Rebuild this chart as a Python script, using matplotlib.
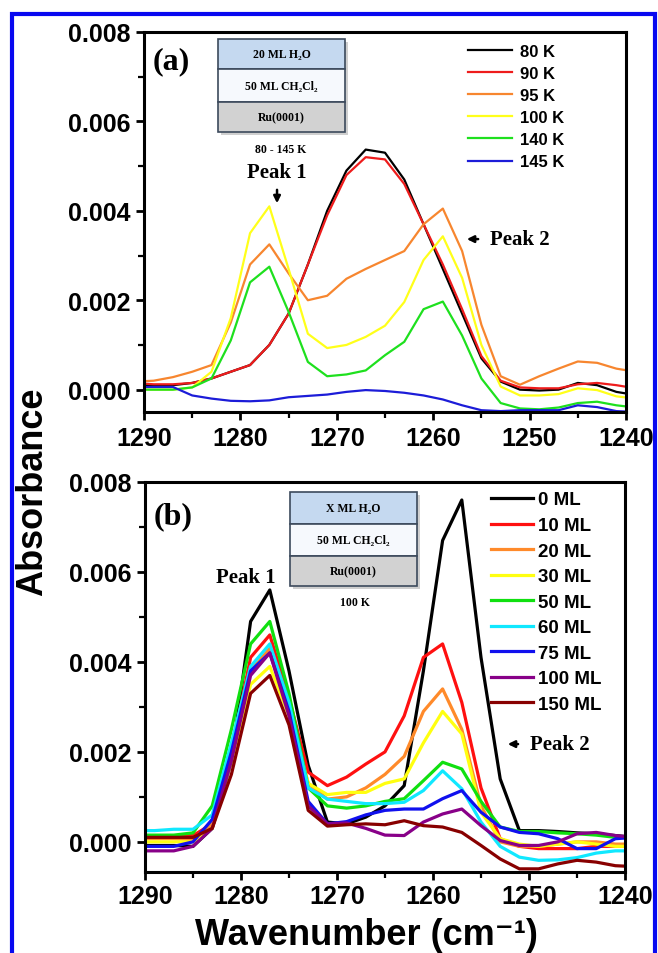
import numpy as np
import matplotlib
matplotlib.use("Agg")
import matplotlib.pyplot as plt
from matplotlib.patches import Rectangle
from matplotlib.ticker import MultipleLocator, FormatStrFormatter

plt.rcParams['font.family'] = ['Liberation Sans', 'DejaVu Sans']
plt.rcParams['font.weight'] = 'bold'

# wavenumber grid (cm-1), shared by both panels
wavenumber = [1291, 1289, 1287, 1285, 1283, 1281, 1279, 1277, 1275, 1273, 1271, 1269, 1267, 1265,
              1263, 1261, 1259, 1257, 1255, 1253, 1251, 1249, 1247, 1245, 1243, 1241, 1239]

# panel (a): temperature series
temp_labels = ['80 K', '90 K', '95 K', '100 K', '140 K', '145 K']
temp_colors = ['#000000', '#ee1c1c', '#f7862f', '#ffff1a', '#1ee01e', '#1c1cd8']
k80 = [0.0001, 0.0001, 0.0001, 0.00015, 0.00025, 0.0004, 0.00055, 0.001, 0.0017, 0.0028, 0.004, 0.0049, 0.00537, 0.0053,
       0.0047, 0.0037, 0.0027, 0.0017, 0.0007, 0.00018, 0.0, -0.00002, 0.0, 0.00015, 0.0001, -0.00005, -0.00012]
k90 = [0.00015, 0.00012, 0.00012, 0.00015, 0.00025, 0.0004, 0.00055, 0.001, 0.0017, 0.0028, 0.0039, 0.0048, 0.0052, 0.00515,
       0.0046, 0.0037, 0.0028, 0.0018, 0.00075, 0.0002, 0.00005, 0.00003, 0.00003, 0.00012, 0.00015, 0.0001, 0.00003]
k95 = [0.00018, 0.0002, 0.00028, 0.0004, 0.00055, 0.0015, 0.0028, 0.00325, 0.0026, 0.002, 0.0021, 0.00248, 0.0027, 0.0029,
       0.0031, 0.0037, 0.00405, 0.0031, 0.00145, 0.0003, 0.00011, 0.0003, 0.00047, 0.00063, 0.0006, 0.00047, 0.0004]
k100 = [0.0, 0.0, 0.0, 0.00005, 0.0004, 0.0016, 0.0035, 0.0041, 0.0027, 0.00125, 0.00093, 0.001, 0.00118, 0.00143,
        0.00196, 0.0029, 0.00343, 0.0025, 0.001, 0.00007, -0.00013, -0.00013, -0.0001, 0.00003, -0.00001, -0.00015, -0.0002]
k140 = [0.0, 0.0, 0.0, 0.00005, 0.00025, 0.0011, 0.0024, 0.00275, 0.00174, 0.00062, 0.0003, 0.00034, 0.00043, 0.00077,
        0.00107, 0.0018, 0.00197, 0.00121, 0.00025, -0.0003, -0.00042, -0.00044, -0.0004, -0.0003, -0.00027, -0.00035, -0.0004]
k145 = [0.00006, 0.00006, 0.00006, -0.00013, -0.0002, -0.00025, -0.00026, -0.00024, -0.00017, -0.00014, -0.00011, -0.00005, -0.00001, -0.00003,
        -0.00007, -0.00013, -0.00022, -0.00035, -0.00046, -0.00048, -0.00046, -0.00046, -0.00046, -0.00035, -0.00039, -0.00048, -0.0005]

# panel (b): water coverage series
ml_labels = ['0 ML', '10 ML', '20 ML', '30 ML', '50 ML', '60 ML', '75 ML', '100 ML', '150 ML']
ml_colors = ['#000000', '#ff1010', '#ff8a2a', '#ffff10', '#10e010', '#10e8ff', '#1010ee', '#880088', '#880000']
ml0 = [-0.00008, -0.00008, -0.00008, -0.0001, 0.0003, 0.0018, 0.0049, 0.0056, 0.0038, 0.0017, 0.00044, 0.0004, 0.00055, 0.0008,
       0.00125, 0.0038, 0.0067, 0.0076, 0.0041, 0.0014, 0.00025, 0.00025, 0.00023, 0.0002, 0.00018, 0.00014, 0.0001]
ml10 = [0.00013, 0.00013, 0.00013, 0.00014, 0.0004, 0.002, 0.0041, 0.0046, 0.0032, 0.00155, 0.00125, 0.00144, 0.00173, 0.002,
        0.0028, 0.0041, 0.0044, 0.0031, 0.0012, 0.00007, -0.0001, -0.00015, -0.00015, -0.00015, -0.0001, -0.0001, -0.0001]
ml20 = [0.00007, 0.00007, 0.00007, 0.00005, 0.0004, 0.0019, 0.0038, 0.0043, 0.003, 0.0013, 0.00095, 0.001, 0.0012, 0.0015,
        0.0019, 0.0029, 0.0034, 0.0025, 0.0008, 0.0, -0.0001, -0.0001, -0.00005, 0.0, 0.0, -0.00005, -0.00005]
ml30 = [0.0, 0.0, 0.0, 0.0, 0.0003, 0.0018, 0.0035, 0.0039, 0.0028, 0.0013, 0.00105, 0.0011, 0.0011, 0.0013,
        0.0014, 0.0022, 0.0029, 0.0024, 0.00066, 0.00007, -0.00005, -0.0001, -0.00005, 0.0, -0.00005, -0.0001, -0.0001]
ml50 = [0.00015, 0.00015, 0.00015, 0.0002, 0.0008, 0.0025, 0.0044, 0.0049, 0.0033, 0.0012, 0.0008, 0.00075, 0.0008, 0.0009,
        0.00096, 0.00136, 0.00177, 0.00162, 0.0009, 0.00033, 0.00023, 0.00023, 0.0002, 0.00018, 0.00015, 0.0001, 0.0001]
ml60 = [0.00025, 0.00025, 0.00028, 0.00028, 0.0006, 0.0022, 0.0039, 0.0044, 0.0031, 0.0012, 0.00095, 0.0009, 0.00085, 0.00085,
        0.00088, 0.00114, 0.00158, 0.00118, 0.00044, -0.0001, -0.00034, -0.00041, -0.0004, -0.00035, -0.00025, -0.0002, -0.0002]
ml75 = [-0.0001, -0.0001, -0.0001, 0.0, 0.0005, 0.002, 0.0038, 0.0042, 0.0029, 0.0009, 0.0004, 0.00045, 0.0006, 0.0007,
        0.00073, 0.00073, 0.00096, 0.00114, 0.00066, 0.00033, 0.00021, 0.00018, 0.00007, -0.00015, -0.00015, 0.00007, 0.0001]
ml100 = [-0.0002, -0.0002, -0.0002, -0.0001, 0.0003, 0.0018, 0.0037, 0.0042, 0.0028, 0.0008, 0.0004, 0.00042, 0.0003, 0.00015,
         0.00014, 0.00044, 0.00062, 0.00073, 0.00036, 0.00003, -0.00008, -0.00008, 0.0, 0.00018, 0.00021, 0.00014, 0.0001]
ml150 = [0.0001, 0.0001, 0.0001, 0.0001, 0.0003, 0.0015, 0.0033, 0.0037, 0.0026, 0.0007, 0.00035, 0.00038, 0.0004, 0.00038,
         0.00047, 0.00036, 0.00033, 0.00021, -0.00008, -0.00038, -0.0006, -0.0006, -0.00049, -0.00041, -0.00045, -0.00053, -0.00055]

temp_series = [k80, k90, k95, k100, k140, k145]
ml_series = [ml0, ml10, ml20, ml30, ml50, ml60, ml75, ml100, ml150]

W, H = 658, 954
SERIF = ['Liberation Serif', 'DejaVu Serif']


def px_axes(left, top, right, bottom):
    return [left / W, 1 - bottom / H, (right - left) / W, (bottom - top) / H]


def style_axes(ax, ymin):
    ax.set_xlim(1290, 1240)
    ax.set_ylim(ymin, 0.008)
    ax.xaxis.set_major_locator(MultipleLocator(10))
    ax.xaxis.set_minor_locator(MultipleLocator(5))
    ax.yaxis.set_major_locator(MultipleLocator(0.002))
    ax.yaxis.set_minor_locator(MultipleLocator(0.001))
    ax.yaxis.set_major_formatter(FormatStrFormatter('%.3f'))
    ax.tick_params(which='major', direction='out', length=6, width=2, labelsize=18, pad=4)
    ax.tick_params(which='minor', direction='out', length=4, width=1.6)
    ax.tick_params(top=False, right=False)
    for sp in ax.spines.values():
        sp.set_linewidth(2.2)


def layer_box(ax, x0, x1, rows, labels):
    fills = ['#c5d9f0', '#f6f9fd', '#d2d2d2']
    # drop shadow
    ax.add_patch(Rectangle((x0 + 0.006, rows[-1] - 0.008), x1 - x0, rows[0] - rows[-1],
                           transform=ax.transAxes, fc='#b0b0b0', ec='none', alpha=0.6, zorder=5))
    for i in range(3):
        ax.add_patch(Rectangle((x0, rows[i + 1]), x1 - x0, rows[i] - rows[i + 1], transform=ax.transAxes,
                               fc=fills[i], ec='#3c4a5c', lw=1.2, zorder=6))
        ax.text((x0 + x1) / 2, (rows[i] + rows[i + 1]) / 2, labels[i], transform=ax.transAxes,
                ha='center', va='center', fontsize=8.5, family=SERIF, zorder=7)


fig = plt.figure(figsize=(W / 100, H / 100), dpi=100)

# ---- panel (a)
ax1 = fig.add_axes(px_axes(144, 33, 626, 413))
for ys, c, lab in zip(temp_series, temp_colors, temp_labels):
    ax1.plot(wavenumber, ys, color=c, lw=1.6, label=lab)
style_axes(ax1, -0.0005)
ax1.legend(loc='upper left', bbox_to_anchor=(0.649, 1.0), frameon=False, fontsize=12,
           handlelength=2.6, handletextpad=0.5, labelspacing=0.43, borderaxespad=0.3)
layer_box(ax1, 0.1535, 0.417, [0.9816, 0.9026, 0.8158, 0.7368],
          ['20 ML H\u2082O', '50 ML CH\u2082Cl\u2082', 'Ru(0001)'])
ax1.text(0.284, 0.692, '80 - 145 K', transform=ax1.transAxes, ha='center', va='center', fontsize=8.5, family=SERIF)
ax1.text(0.017, 0.924, '(a)', transform=ax1.transAxes, ha='left', va='center', fontsize=23, family=SERIF)
ax1.text(0.276, 0.632, 'Peak 1', transform=ax1.transAxes, ha='center', va='center', fontsize=15, family=SERIF)
ax1.annotate('', xy=(0.276, 0.542), xytext=(0.276, 0.592), xycoords='axes fraction',
             arrowprops=dict(arrowstyle='-|>', color='black', lw=1.8, mutation_scale=10))
ax1.text(0.718, 0.455, 'Peak 2', transform=ax1.transAxes, ha='left', va='center', fontsize=15, family=SERIF)
ax1.annotate('', xy=(0.664, 0.455), xytext=(0.699, 0.455), xycoords='axes fraction',
             arrowprops=dict(arrowstyle='-|>', color='black', lw=1.8, mutation_scale=10))

# ---- panel (b)
ax2 = fig.add_axes(px_axes(145, 483, 625, 873))
for ys, c, lab in zip(ml_series, ml_colors, ml_labels):
    ax2.plot(wavenumber, ys, color=c, lw=2.3, label=lab)
style_axes(ax2, -0.00067)
ax2.tick_params(axis='x', pad=3)
ax2.legend(loc='upper left', bbox_to_anchor=(0.701, 1.0), frameon=False, fontsize=13.5,
           handlelength=2.25, handletextpad=0.27, labelspacing=0.45, borderaxespad=0.1)
layer_box(ax2, 0.302, 0.567, [0.974, 0.892, 0.810, 0.733],
          ['X ML H\u2082O', '50 ML CH\u2082Cl\u2082', 'Ru(0001)'])
ax2.text(0.4375, 0.692, '100 K', transform=ax2.transAxes, ha='center', va='center', fontsize=8.5, family=SERIF)
ax2.text(0.017, 0.913, '(b)', transform=ax2.transAxes, ha='left', va='center', fontsize=23, family=SERIF)
ax2.text(0.21, 0.756, 'Peak 1', transform=ax2.transAxes, ha='center', va='center', fontsize=15, family=SERIF)
ax2.text(0.802, 0.328, 'Peak 2', transform=ax2.transAxes, ha='left', va='center', fontsize=15, family=SERIF)
ax2.annotate('', xy=(0.75, 0.328), xytext=(0.783, 0.328), xycoords='axes fraction',
             arrowprops=dict(arrowstyle='-|>', color='black', lw=1.8, mutation_scale=10))

fig.text(33 / W, 1 - 492 / H, 'Absorbance', rotation=90, ha='center', va='center', fontsize=26)
fig.text(366 / W, 1 - 945 / H, 'Wavenumber (cm\u207b\u00b9)', ha='center', va='baseline', fontsize=26)

# blue frame
fig.patches.append(Rectangle((12 / W, -0.02), (655 - 12) / W, (H - 14.5) / H + 0.02,
                             transform=fig.transFigure, fill=False, ec='#0808f0', lw=3))

fig.savefig('out.png', dpi=100)
